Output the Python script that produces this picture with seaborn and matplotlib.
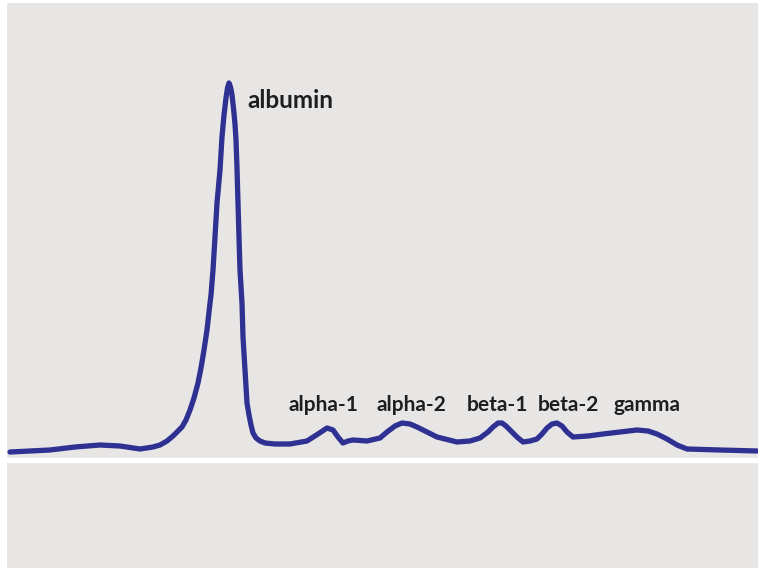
import matplotlib
matplotlib.use("Agg")
import matplotlib.pyplot as plt
import seaborn as sns
import pandas as pd

# Densitometry trace (migration position, intensity above baseline)
migration = [10, 30, 50, 75, 100, 120, 140, 153, 160, 167, 173, 177, 182, 186, 190, 194, 198, 201,
             204, 207, 209, 211, 213, 215, 217, 220, 222, 224, 226, 227.5, 229, 230.5, 232, 233.5,
             235, 236, 237, 238, 239, 240, 242, 243, 245, 247, 249, 251, 253, 256, 260, 265, 275,
             290, 307, 318, 327, 333, 338, 343, 348, 353, 367, 380, 387, 395, 402, 410, 417, 427,
             437, 457, 470, 480, 488, 493, 498, 502, 506, 510, 517, 523, 530, 537, 542, 547, 552,
             557, 562, 567, 573, 588, 603, 620, 637, 648, 657, 667, 677, 687, 720, 757]
intensity = [8, 9, 10, 13, 15, 14, 11, 13, 15, 19, 24, 28, 33, 40, 50, 62, 77, 92,
             110, 130, 148, 165, 190, 223, 257, 290, 323, 345, 362, 372, 377, 373, 365, 352,
             336, 320, 292, 257, 223, 190, 157, 123, 90, 57, 45, 35, 27, 22, 19, 17, 16,
             16, 19, 26, 32, 30, 23, 17, 19, 20, 19, 22, 28, 34, 37, 36, 33, 28,
             23, 18, 19, 22, 28, 33, 37, 37, 34, 30, 23, 18, 19, 21, 26, 32, 36,
             37, 34, 28, 23, 24, 26, 28, 30, 29, 26, 21, 15, 11, 10, 9]

fractions = ["albumin", "alpha-1", "alpha-2", "beta-1", "beta-2", "gamma"]
label_x = [247, 323, 411, 497, 568, 647]
label_y = [360, 55, 55, 55, 55, 55]
label_ha = ["left", "center", "center", "center", "center", "center"]
label_size = [17.5, 15, 15, 15, 15, 15]

df = pd.DataFrame({"migration": migration, "intensity": intensity})

sns.set_theme(style="white")
bg = "#e8e5e5"
fig = plt.figure(figsize=(7.58, 5.68), dpi=100, facecolor="white")
ax = fig.add_axes([7 / 758, 0, 751 / 758, 1 - 3 / 568])
ax.set_facecolor(bg)

ax.axhline(0, color="white", lw=3.8, zorder=1)
sns.lineplot(data=df, x="migration", y="intensity", sort=False, color="#2e3192",
             lw=3.8, ax=ax, zorder=2, solid_capstyle="round", solid_joinstyle="round")

for name, x, y, ha, fs in zip(fractions, label_x, label_y, label_ha, label_size):
    ax.text(x, y, name, ha=ha, va="center", fontsize=fs, fontweight="bold",
            family=["Lato", "DejaVu Sans"], color="#1e1e1e", zorder=3)

ax.set_xlim(7, 758)
ax.set_ylim(-108, 457)
ax.set_xlabel("")
ax.set_ylabel("")
ax.set_xticks([])
ax.set_yticks([])
for s in ax.spines.values():
    s.set_visible(False)

fig.savefig("out.png", dpi=100, facecolor="white")
